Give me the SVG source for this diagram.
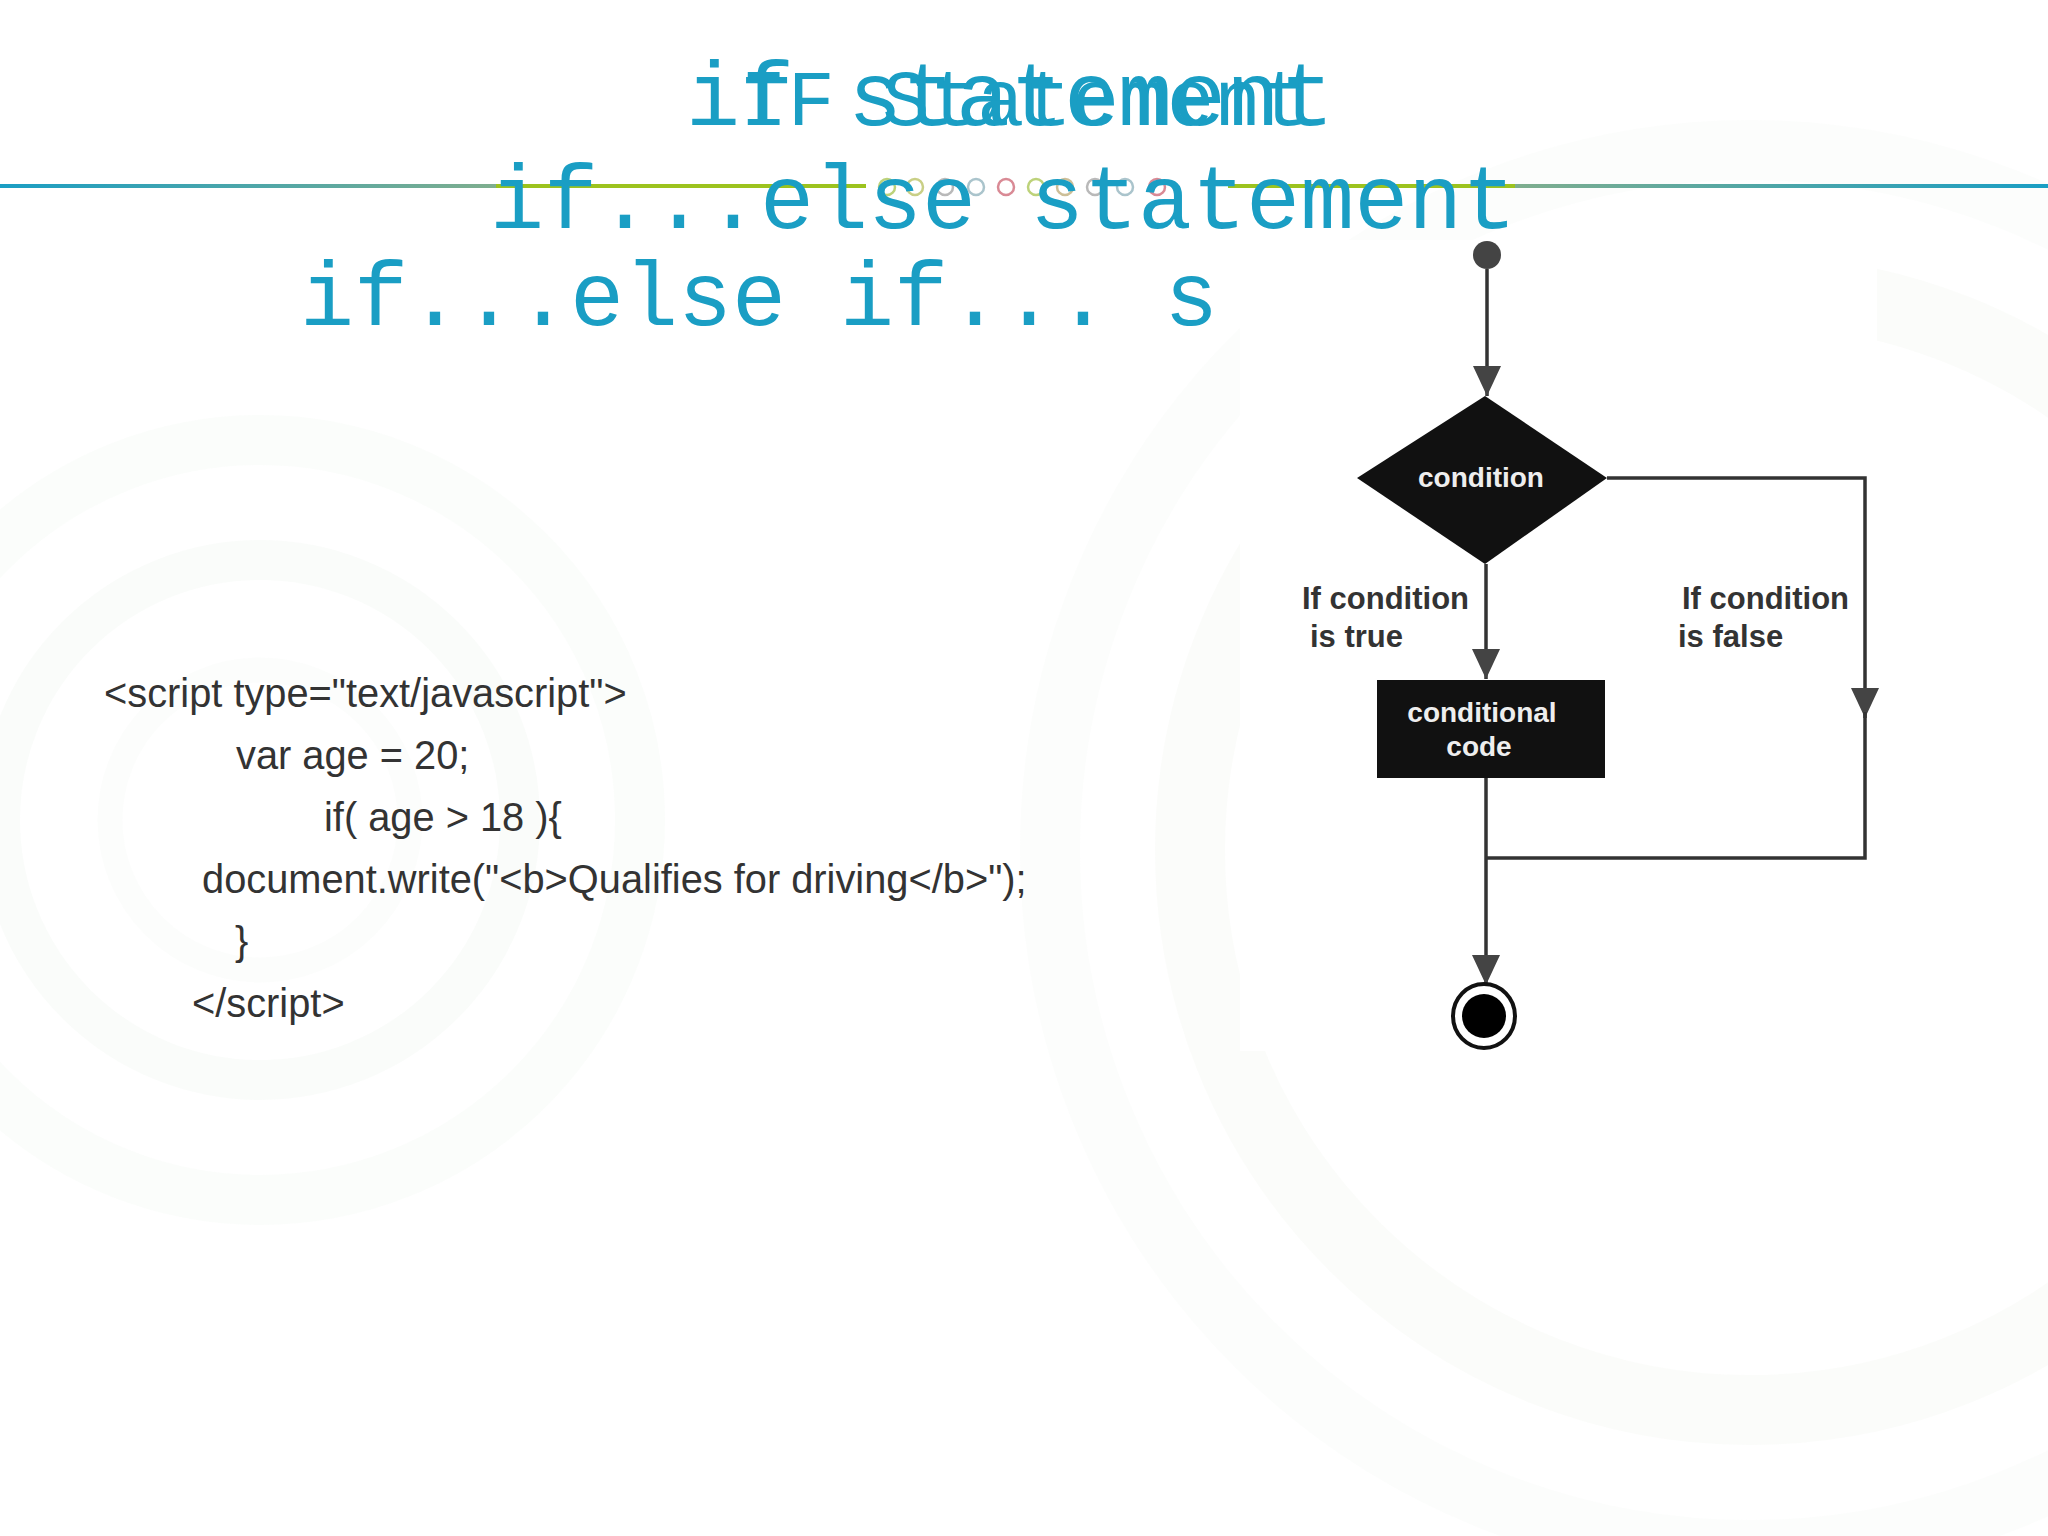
<svg xmlns="http://www.w3.org/2000/svg" width="2048" height="1536" viewBox="0 0 2048 1536">
<defs>
<style>
.title{font-family:"Liberation Mono","DejaVu Sans Mono",monospace;fill:#1a9ec4;}
.code{font-family:"Liberation Sans",Arial,sans-serif;font-size:39.8px;fill:#333;}
.lbl{font-family:"Liberation Sans",Arial,sans-serif;font-weight:bold;font-size:31px;fill:#333;}
.wlbl{font-family:"Liberation Sans",Arial,sans-serif;font-weight:bold;font-size:28px;fill:#eee;text-anchor:middle;}
.conn{stroke:#333;stroke-width:3.5;fill:none;}
.deco{fill:none;stroke-width:2.5;}
.bg{fill:none;stroke-opacity:0.18;}
</style>
<marker id="arr" markerUnits="userSpaceOnUse" markerWidth="30" markerHeight="28" refX="30" refY="14" orient="auto">
<path d="M0,0 L30,14 L0,28 Z" fill="#444"/>
</marker>
<linearGradient id="lineL" x1="0" y1="0" x2="1" y2="0">
<stop offset="0" stop-color="#1a9ec4"/>
<stop offset="1" stop-color="#7fae8e"/>
</linearGradient>
<linearGradient id="lineR" x1="0" y1="0" x2="1" y2="0">
<stop offset="0" stop-color="#7fae8e"/>
<stop offset="1" stop-color="#1a9ec4"/>
</linearGradient>
<clipPath id="clip3"><rect x="0" y="240" width="1240" height="120"/></clipPath>
</defs>
<rect width="2048" height="1536" fill="#ffffff"/>
<g id="background">
<circle cx="260" cy="820" r="260" class="bg" stroke="#e6efe2" stroke-width="40"/>
<circle cx="260" cy="820" r="380" class="bg" stroke="#ebf2ea" stroke-width="50"/>
<circle cx="260" cy="820" r="150" class="bg" stroke="#eef3ec" stroke-width="25"/>
<circle cx="1750" cy="850" r="560" class="bg" stroke="#e9f1e4" stroke-width="70"/>
<circle cx="1750" cy="850" r="700" class="bg" stroke="#eef4f0" stroke-width="60"/>
</g>
<g id="rule">
<rect x="0" y="184" width="496" height="4" fill="url(#lineL)"/>
<rect x="496" y="184" width="370" height="4" fill="#9cc31e"/>
<rect x="1228" y="184" width="287" height="4" fill="#9cc31e"/>
<rect x="1515" y="184" width="533" height="4" fill="url(#lineR)"/>
<circle cx="887" cy="187" r="8" class="deco" stroke="#bdd27a"/>
<circle cx="915" cy="187" r="8" class="deco" stroke="#c9cf86"/>
<circle cx="945" cy="187" r="8" class="deco" stroke="#b9b9b9"/>
<circle cx="976" cy="187" r="8" class="deco" stroke="#aac4cc"/>
<circle cx="1006" cy="187" r="8" class="deco" stroke="#d98a95"/>
<circle cx="1036" cy="187" r="8" class="deco" stroke="#bdd27a"/>
<circle cx="1065" cy="187" r="8" class="deco" stroke="#cdbf98"/>
<circle cx="1095" cy="187" r="8" class="deco" stroke="#b9b9b9"/>
<circle cx="1125" cy="187" r="8" class="deco" stroke="#aac4cc"/>
<circle cx="1157" cy="187" r="8" class="deco" stroke="#d98a95"/>
</g>
<g id="titles">
<text class="title" x="686" y="125" font-size="90">if statement</text>
<text class="title" x="740" y="125" font-size="79">IF Statement</text>
<text class="title" x="490" y="228" font-size="90">if...else statement</text>
<text class="title" x="300" y="325" font-size="90" clip-path="url(#clip3)">if...else if... s</text>
</g>
<g id="code">
<text class="code" x="104" y="707">&lt;script type="text/javascript"&gt;</text>
<text class="code" x="236" y="769">var age = 20;</text>
<text class="code" x="324" y="831">if( age &gt; 18 ){</text>
<text class="code" x="202" y="893">document.write("&lt;b&gt;Qualifies for driving&lt;/b&gt;");</text>
<text class="code" x="235" y="955">}</text>
<text class="code" x="192" y="1017">&lt;/script&gt;</text>
</g>
<rect id="image-bg" x="1240" y="240" width="637" height="811" fill="#ffffff"/>
<g id="connectors">
<path class="conn" d="M1487,269 V396" marker-end="url(#arr)"/>
<path class="conn" d="M1486,564 V679" marker-end="url(#arr)"/>
<path class="conn" d="M1607,478 H1865 V718" marker-end="url(#arr)"/>
<path class="conn" d="M1865,712 V858 H1486"/>
<path class="conn" d="M1486,778 V985" marker-end="url(#arr)"/>
</g>
<g id="start"><circle cx="1487" cy="255" r="14" fill="#444"/></g>
<g id="condition">
<polygon points="1485,396 1607,478 1485,564 1357,478" fill="#111"/>
<text class="wlbl" x="1481" y="487">condition</text>
</g>
<g id="conditional-code">
<rect x="1377" y="680" width="228" height="98" fill="#111"/>
<text class="wlbl" x="1482" y="722">conditional</text>
<text class="wlbl" x="1479" y="756">code</text>
</g>
<g id="end">
<ellipse cx="1484" cy="1016" rx="31" ry="32" fill="#fff" stroke="#111" stroke-width="4"/>
<circle cx="1484" cy="1016" r="22" fill="#000"/>
</g>
<g id="labels">
<text class="lbl" x="1302" y="609">If condition</text>
<text class="lbl" x="1310" y="647">is true</text>
<text class="lbl" x="1682" y="609">If condition</text>
<text class="lbl" x="1678" y="647">is false</text>
</g>
</svg>
